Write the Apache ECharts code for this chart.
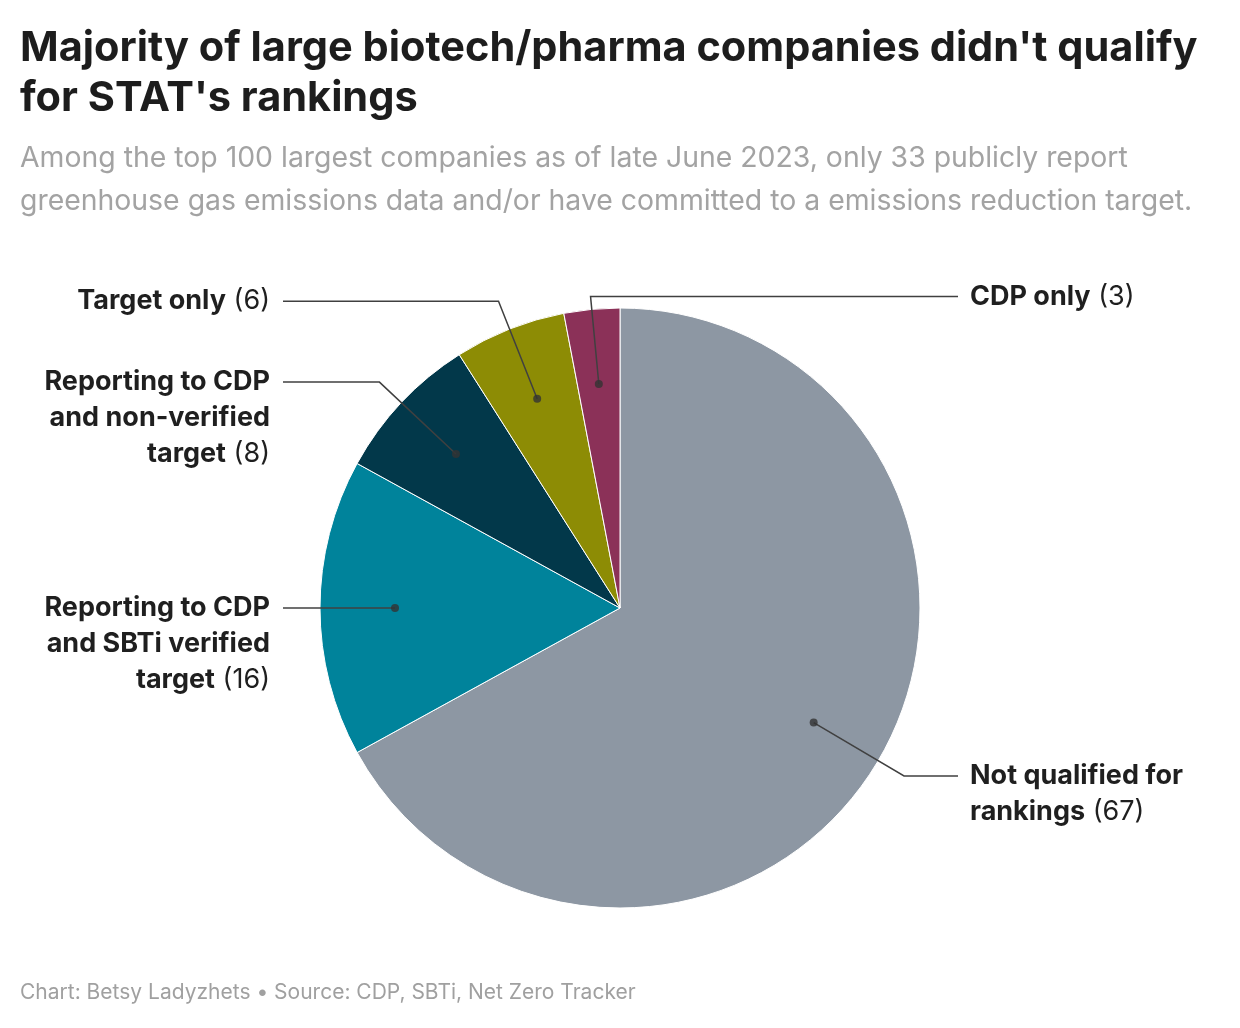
<!DOCTYPE html>
<html><head><meta charset="utf-8">
<script src="https://cdn.jsdelivr.net/npm/echarts@6/dist/echarts.min.js"></script>
<style>html,body{margin:0;padding:0;background:#fff}#chart{width:1240px;height:1028px}</style>
</head><body><div id="chart"></div>
<script>
// ---- data ----
const categories = ['Not qualified for\nrankings', 'Reporting to CDP\nand SBTi verified\ntarget', 'Reporting to CDP\nand non-verified\ntarget', 'Target only', 'CDP only'];
const values = [67, 16, 8, 6, 3];
// ---- styles (kept apart from data) ----
const colors = ['#8d97a3', '#00839b', '#02384a', '#8d8c05', '#8b3158'];
const labelSide = ['right', 'left', 'left', 'left', 'right'];
const leaderLength = [105, 105, 105, 105, 88];

const F = 'Inter, Lato, sans-serif';
const CX = 620, CY = 608, R = 300, DOT_R = 225;
const total = values.reduce((a, b) => a + b, 0);
let cum = 0;
const mids = values.map(v => { const m = cum + v / 2; cum += v; return m; });

const chart = echarts.init(document.getElementById('chart'));
const labelColor = '#1f1f1f';
function rs(align, weight) {
  return { fontFamily: F, fontSize: 27, fontWeight: weight, color: labelColor, lineHeight: 36, align: align };
}
chart.setOption({
  animation: false,
  title: [{
    text: "Majority of large biotech/pharma companies didn't qualify\nfor STAT's rankings",
    subtext: 'Among the top 100 largest companies as of late June 2023, only 33 publicly report\ngreenhouse gas emissions data and/or have committed to a emissions reduction target.',
    left: 20, top: 24, padding: 0, itemGap: 13,
    textStyle: { fontFamily: F, fontSize: 41.5, fontWeight: 'bold', color: '#1d1d1d', lineHeight: 50 },
    subtextStyle: { fontFamily: F, fontSize: 28.4, color: '#a3a3a3', lineHeight: 43 }
  }, {
    text: 'Chart: Betsy Ladyzhets \u2022 Source: CDP, SBTi, Net Zero Tracker',
    left: 20, top: 982, padding: 0,
    textStyle: { fontFamily: F, fontSize: 21, fontWeight: 'normal', color: '#a0a0a0', lineHeight: 22 }
  }],
  polar: { center: [CX, CY], radius: R },
  angleAxis: { type: 'value', min: 0, max: total, startAngle: 90, clockwise: true, show: false },
  radiusAxis: { type: 'value', min: 0, max: 100, show: false },
  series: [{
    type: 'pie', center: [CX, CY], radius: R, startAngle: 90, clockwise: true, z: 2,
    silent: true, emphasis: { disabled: true },
    label: { show: false }, labelLine: { show: false },
    itemStyle: { borderColor: '#fff', borderWidth: 1 },
    data: categories.map((c, i) => ({ name: c, value: values[i], itemStyle: { color: colors[i] } }))
  }, {
    type: 'pie', center: [CX, CY], radius: DOT_R, startAngle: 90, clockwise: true, z: 3,
    silent: true, emphasis: { disabled: true }, avoidLabelOverlap: false,
    itemStyle: { color: 'rgba(0,0,0,0)', borderWidth: 0 },
    label: {
      show: true, position: 'outside', color: labelColor, fontFamily: F,
      formatter: p => {
        const k = labelSide[p.dataIndex] === 'right' ? 'r' : 'l';
        const lines = p.name.split('\n');
        return lines.map((l, j) => '{b' + k + '|' + l + '}' + (j === lines.length - 1 ? '{n' + k + '| (' + p.value + ')}' : '')).join('\n');
      },
      rich: { bl: rs('right', 'bold'), nl: rs('right', 'normal'), br: rs('left', 'bold'), nr: rs('left', 'normal') }
    },
    labelLine: { show: true, length: 105, length2: 10, smooth: false, lineStyle: { color: '#404040', width: 1.5 } },
    labelLayout: function (params) {
      const i = params.dataIndex;
      const pts = params.labelLinePoints;
      if (!pts) return {};
      const right = labelSide[i] === 'right';
      const elbow = [pts[1][0], pts[1][1]];
      const endX = right ? CX + 338 : CX - 337;
      return {
        x: right ? endX + 12 : endX - 13,
        y: elbow[1] - 18,
        align: right ? 'left' : 'right',
        verticalAlign: 'top',
        labelLinePoints: [[pts[0][0], pts[0][1]], elbow, [endX, elbow[1]]]
      };
    },
    data: categories.map((c, i) => ({ name: c, value: values[i], labelLine: { length: leaderLength[i] } }))
  }, {
    type: 'scatter', coordinateSystem: 'polar', z: 5, silent: true,
    symbol: 'circle', symbolSize: 8, itemStyle: { color: '#333' },
    data: mids.map(m => [DOT_R / R * 100, m])
  }]
});
</script></body></html>
